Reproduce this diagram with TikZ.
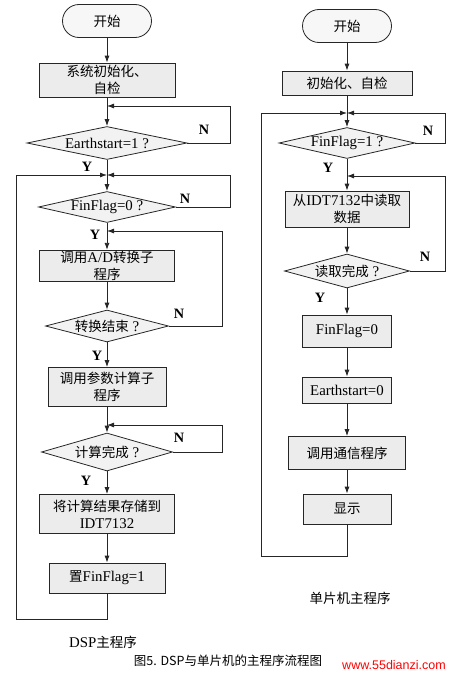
\documentclass[tikz,border=0pt]{standalone}
\usepackage{fontspec}
\setmainfont{Liberation Serif}[Scale=1.1]
\newfontfamily\cjk{Noto Sans CJK SC}
\newfontfamily\websans{Liberation Sans}
\usetikzlibrary{shapes.geometric,arrows.meta}
\newcommand*{\nowd}[1]{\makebox[0pt]{#1}}

\begin{document}
\begin{tikzpicture}[x=1pt, y=-1pt,
    every node/.style={font=\fontsize{13.5}{17}\selectfont},
    line/.style={draw=black!85, line width=0.8pt},
    flow/.style={line, -{Latex[length=7pt,width=5pt]}},
    terminal/.style={line, fill=gray!6, rounded corners=16.5pt,
      minimum width=89pt, minimum height=33pt, font=\fontsize{13.5}{17}\selectfont\cjk},
    procbox/.style={line, fill=gray!15, align=center, inner sep=1pt},
    decision/.style={line, diamond, fill=gray!10, inner sep=0pt, aspect=2},
    yn/.style={font=\fontsize{13}{13}\selectfont\bfseries}]
  \useasboundingbox (0,0) rectangle (455,680);

  % DSP side
  \coordinate (lxl) at (16,0);
  \coordinate (lxr) at (230,0);
  \coordinate (lxm) at (222,0);
  \node[terminal] (ls) at (107,21) {开始};
  \node[procbox, minimum width=136pt, minimum height=34pt] (linit) at (107,80)
    {{\cjk 系统初始化、}\\{\cjk 自检}};
  \node[decision, minimum width=160pt, minimum height=33pt] (les) at (107,143)
    {\nowd{Earthstart=1 ?}};
  \node[decision, minimum width=137pt, minimum height=31pt] (lff0) at (107,207)
    {\nowd{FinFlag=0 ?}};
  \node[procbox, minimum width=135pt, minimum height=31pt] (lad) at (107,266)
    {{\cjk 调用}A/D{\cjk 转换子}\\{\cjk 程序}};
  \node[decision, minimum width=123pt, minimum height=32pt] (lcv) at (107,326)
    {\nowd{\cjk 转换结束\rmfamily{} ?}};
  \node[procbox, minimum width=118pt, minimum height=39pt] (lcalc) at (107,387)
    {{\cjk 调用参数计算子}\\{\cjk 程序}};
  \node[decision, minimum width=131pt, minimum height=38pt] (ldone) at (107,452)
    {\nowd{\cjk 计算完成\rmfamily{} ?}};
  \node[procbox, minimum width=135pt, minimum height=39pt] (lstore) at (107,514)
    {{\cjk 将计算结果存储到}\\IDT7132};
  \node[procbox, minimum width=116pt, minimum height=30pt] (lset) at (107,578)
    {{\cjk 置}FinFlag=1};

  \coordinate (lj1) at (107,106);
  \coordinate (lj2) at (107,175);
  \coordinate (lj3) at (107,231);
  \coordinate (lj4) at (107,425);

  \draw[flow] (ls) -- (linit);
  \draw[flow] (linit) -- (les);
  \draw[flow] (les) -- (lff0);
  \draw[flow] (lff0) -- (lad);
  \draw[flow] (lad) -- (lcv);
  \draw[flow] (lcv) -- (lcalc);
  \draw[flow] (lcalc) -- (ldone);
  \draw[flow] (ldone) -- (lstore);
  \draw[flow] (lstore) -- (lset);
  \draw[flow] (les.east) -- (les.east -| lxr) |- (lj1);
  \draw[flow] (lff0.east) -- (lff0.east -| lxr) |- (lj2);
  \draw[flow] (lcv.east) -- (lcv.east -| lxm) |- (lj3);
  \draw[flow] (ldone.east) -- (ldone.east -| lxm) |- (lj4);
  \draw[flow] (lset.south) -- ++(0,26) -| (lxl |- lj2) -- (lj2);

  \node[yn] (ln1) at (204,130) {N};
  \node[yn] (ly1) at (87,167) {Y};
  \node[yn] (ln2) at (185,199) {N};
  \node[yn] (ly2) at (95,235) {Y};
  \node[yn] (ln3) at (179,314) {N};
  \node[yn] (ly3) at (97,356) {Y};
  \node[yn] (ln4) at (179,438) {N};
  \node[yn] (ly4) at (86,481) {Y};

  % MCU side
  \coordinate (rxl) at (261,0);
  \coordinate (rxr) at (445,0);
  \node[terminal] (rs) at (347,26) {开始};
  \node[procbox, minimum width=130pt, minimum height=24pt] (rinit) at (347,83)
    {\cjk 初始化、自检};
  \node[decision, minimum width=136pt, minimum height=31pt] (rff1) at (347,143)
    {\nowd{FinFlag=1 ?}};
  \node[procbox, minimum width=124pt, minimum height=36pt] (rread) at (347,209)
    {{\cjk 从}IDT7132{\cjk 中读取}\\{\cjk 数据}};
  \node[decision, minimum width=125pt, minimum height=34pt] (rrd) at (347,271)
    {\nowd{\cjk 读取完成\rmfamily{} ?}};
  \node[procbox, minimum width=89pt, minimum height=32pt] (rf0) at (347,331)
    {FinFlag=0};
  \node[procbox, minimum width=89pt, minimum height=26pt] (re0) at (347,390)
    {Earthstart=0};
  \node[procbox, minimum width=117pt, minimum height=33pt] (rcom) at (347,453)
    {\cjk 调用通信程序};
  \node[procbox, minimum width=88pt, minimum height=30pt] (rshow) at (347,509)
    {\cjk 显示};

  \coordinate (rj1) at (347,113);
  \coordinate (rj2) at (347,176);

  \draw[flow] (rs) -- (rinit);
  \draw[flow] (rinit) -- (rff1);
  \draw[flow] (rff1) -- (rread);
  \draw[flow] (rread) -- (rrd);
  \draw[flow] (rrd) -- (rf0);
  \draw[flow] (rf0) -- (re0);
  \draw[flow] (re0) -- (rcom);
  \draw[flow] (rcom) -- (rshow);
  \draw[flow] (rff1.east) -- (rff1.east -| rxr) |- (rj1);
  \draw[flow] (rrd.east) -- (rrd.east -| rxr) |- (rj2);
  \draw[flow] (rshow.south) -- ++(0,32) -| (rxl |- rj1) -- (rj1);

  \node[yn] (rn1) at (428,131) {N};
  \node[yn] (ry1) at (328,168) {Y};
  \node[yn] (rn2) at (425,257) {N};
  \node[yn] (ry2) at (320,298) {Y};

  % captions
  \node (lcap) at (103,642) {DSP{\cjk 主程序}};
  \node[font=\fontsize{13.5}{17}\selectfont\cjk] (rcap) at (350,598) {单片机主程序};
  \node[font=\fontsize{12.5}{14}\selectfont\cjk] (figcap) at (228,661)
    {图5. DSP与单片机的主程序流程图};
  \node[font=\fontsize{12.5}{14}\selectfont\websans, text=red] (web) at (394,665)
    {www.55dianzi.com};
\end{tikzpicture}
\end{document}
